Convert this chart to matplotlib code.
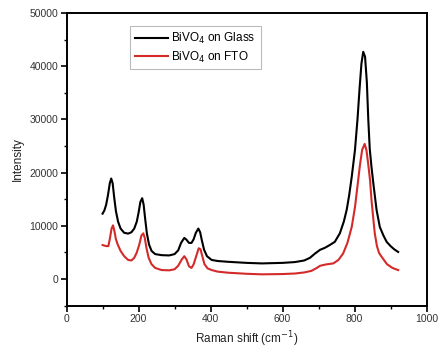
import numpy as np
import matplotlib.pyplot as plt

plt.rcParams['font.family'] = ['Liberation Sans', 'DejaVu Sans']

# BiVO4 on Glass (black)
x_glass = [100, 105, 110, 115, 120, 124, 128, 132, 137, 143, 150, 160, 171, 180, 188,
           195, 200, 205, 210, 214, 218, 223, 229, 236, 246, 264, 285, 300, 310, 318,
           327, 333, 340, 347, 353, 359, 366, 371, 376, 382, 390, 403, 420, 449, 500,
           542, 600, 634, 660, 676, 690, 704, 718, 731, 745, 759, 770, 778, 785, 792,
           801, 808, 814, 819, 824, 829, 834, 838, 842, 847, 852, 861, 870, 880, 889,
           900, 910, 921]
y_glass = [12300, 12900, 14000, 15800, 18000, 18900, 18000, 15500, 12800, 10800, 9500,
           8700, 8550, 8800, 9500, 10800, 12500, 14500, 15200, 14000, 11500, 8600, 6500,
           5300, 4700, 4500, 4450, 4700, 5400, 6800, 7750, 7400, 6800, 6800, 7500, 8700,
           9500, 8800, 7200, 5500, 4300, 3600, 3400, 3250, 3050, 2950, 3050, 3200, 3500,
           4000, 4800, 5500, 5900, 6400, 7000, 8600, 10800, 13000, 15800, 19200, 24250,
           30000, 36000, 40500, 42700, 41800, 37000, 30000, 24500, 21000, 18000, 13000,
           9800, 8200, 7000, 6200, 5600, 5100]

# BiVO4 on FTO (red)
x_fto = [100, 105, 110, 116, 120, 125, 129, 133, 137, 142, 150, 160, 171, 180, 188,
         195, 202, 208, 213, 217, 222, 228, 236, 246, 264, 285, 300, 310, 320, 327,
         333, 340, 347, 353, 360, 367, 372, 377, 383, 392, 403, 420, 449, 500, 542,
         600, 634, 660, 680, 695, 704, 720, 741, 755, 768, 780, 792, 801, 808, 815,
         821, 828, 833, 838, 843, 847, 852, 856, 862, 868, 875, 890, 905, 921]
y_fto = [6400, 6300, 6200, 6200, 7500, 9500, 10100, 9000, 7500, 6500, 5300, 4300, 3600,
         3500, 4000, 5000, 6500, 8200, 8600, 7800, 5800, 4000, 2800, 2100, 1700, 1650,
         1850, 2500, 3700, 4300, 3700, 2400, 2100, 2800, 4300, 5800, 5600, 4300, 2800,
         2000, 1700, 1400, 1200, 1000, 900, 950, 1050, 1250, 1550, 2100, 2500, 2750,
         2950, 3600, 4800, 6800, 9800, 13500, 17500, 21500, 24300, 25400, 24200, 21500,
         18500, 14800, 11300, 8600, 6200, 4900, 4200, 2800, 2100, 1700]

fig = plt.figure(figsize=(4.38, 3.51), dpi=100)
ax = fig.add_axes([0.152, 0.129, 0.822, 0.834])

ax.plot(x_glass, y_glass, color='black', lw=1.5, label=r'BiVO$_4$ on Glass')
ax.plot(x_fto, y_fto, color='#d42a2a', lw=1.5, label=r'BiVO$_4$ on FTO')

ax.set_xlim(0, 1000)
ax.set_ylim(-5000, 50000)
ax.set_xticks([0, 200, 400, 600, 800, 1000])
ax.set_xticks([100, 300, 500, 700, 900], minor=True)
ax.set_yticks([0, 10000, 20000, 30000, 40000, 50000])
ax.set_yticks([-5000, 5000, 15000, 25000, 35000, 45000], minor=True)

for s in ax.spines.values():
    s.set_linewidth(1.4)
ax.tick_params(which='major', direction='out', length=4, width=1.2,
               labelsize=7.5, labelcolor='#333333', pad=2)
ax.tick_params(which='minor', direction='out', length=2, width=1.0)

ax.set_xlabel('Raman shift (cm$^{-1}$)', fontsize=8.5, color='#222222', labelpad=4)
ax.set_ylabel('Intensity', fontsize=8.5, color='#222222', labelpad=4)

leg = ax.legend(loc='upper left', bbox_to_anchor=(0.16, 0.975), fontsize=8.5,
                frameon=True, fancybox=False, edgecolor='#aaaaaa',
                handlelength=2.8, handletextpad=0.3, borderpad=0.4, labelspacing=0.3)
leg.get_frame().set_linewidth(0.8)

fig.savefig('out.png', dpi=100)
